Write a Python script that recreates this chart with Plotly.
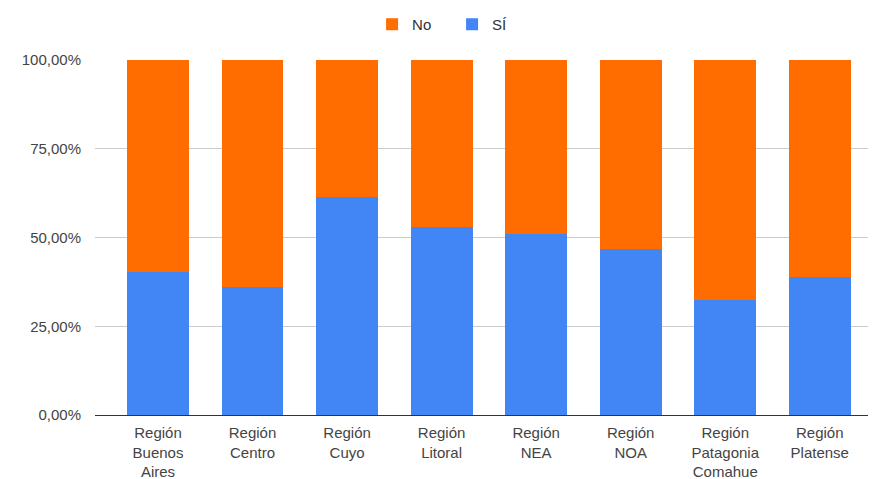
import plotly.graph_objects as go

categories = ["Región<br>Buenos<br>Aires", "Región<br>Centro", "Región<br>Cuyo", "Región<br>Litoral",
              "Región<br>NEA", "Región<br>NOA", "Región<br>Patagonia<br>Comahue", "Región<br>Platense"]
si_values = [40.4, 36.1, 61.3, 53.0, 50.9, 46.8, 32.4, 39.0]
no_values = [100 - v for v in si_values]
y_tickvals = [0, 25, 50, 75, 100]
y_ticktext = ["0,00%", "25,00%", "50,00%", "75,00%", "100,00%"]

fig = go.Figure()
fig.add_trace(go.Bar(x=categories, y=si_values, name="SÍ", marker=dict(color="#4285f4", line=dict(width=0))))
fig.add_trace(go.Bar(x=categories, y=no_values, name="No", marker=dict(color="#ff6d01", line=dict(width=0))))

fig.update_layout(
    width=871, height=471,
    barmode="stack", bargap=0.345,
    plot_bgcolor="white", paper_bgcolor="white",
    margin=dict(l=87, r=11, t=52, b=64, autoexpand=False),
    font=dict(family="Arial, Liberation Sans, sans-serif", size=15, color="#444444"),
    legend=dict(orientation="h", xref="container", x=0.418, xanchor="left", yref="container",
                y=1.0, yanchor="top", traceorder="reversed", entrywidth=35,
                font=dict(size=15, color="#333333")),
    showlegend=True,
)
fig.update_xaxes(range=[-0.666, 7.51], showgrid=False, showline=False, ticks="", automargin=False,
                 ticklabelstandoff=7, tickfont=dict(size=15, color="#444444"))
fig.update_yaxes(range=[0, 100], tickvals=y_tickvals, ticktext=y_ticktext, showgrid=True, automargin=False,
                 gridcolor="#cccccc", gridwidth=1, zeroline=True, zerolinecolor="#333333", zerolinewidth=1,
                 ticks="", ticklabelstandoff=13, tickfont=dict(size=15, color="#444444"))

fig.write_html("out.html")
